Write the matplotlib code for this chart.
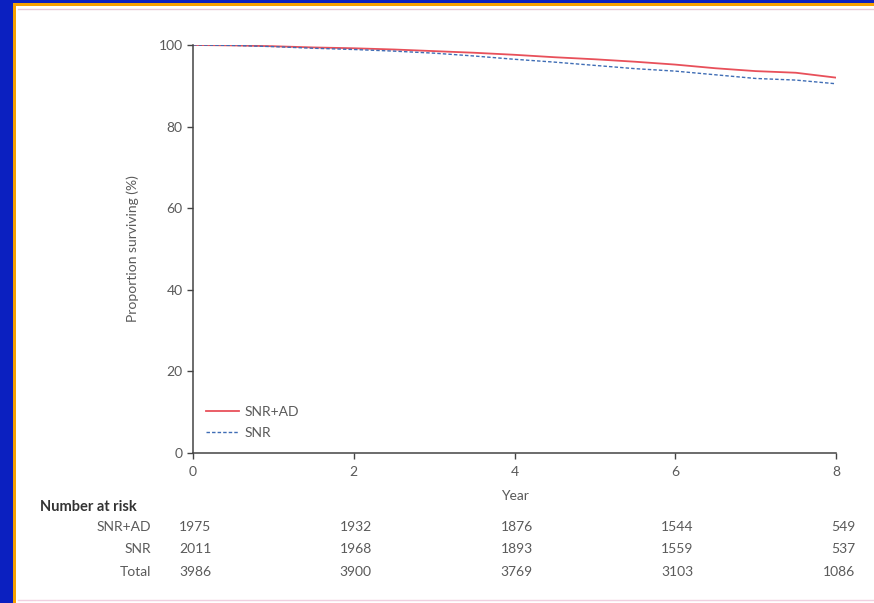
import matplotlib
matplotlib.use("Agg")
import matplotlib.pyplot as plt
from matplotlib.patches import Rectangle
from matplotlib.lines import Line2D

# ---- data ----
years = [0, 0.5, 1, 1.5, 2, 2.5, 3, 3.5, 4, 4.5, 5, 5.5, 6, 6.5, 7, 7.5, 8]
snr_ad = [100, 99.9, 99.7, 99.4, 99.2, 98.9, 98.5, 98.1, 97.6, 97.0, 96.5, 95.9, 95.2, 94.3, 93.6, 93.2, 92.0]
snr = [100, 99.9, 99.6, 99.2, 98.9, 98.5, 98.0, 97.3, 96.5, 95.8, 95.0, 94.2, 93.6, 92.7, 91.8, 91.4, 90.5]
series_names = ["SNR+AD", "SNR"]
x_ticks = [0, 2, 4, 6, 8]
y_ticks = [0, 20, 40, 60, 80, 100]
risk_rows = ["SNR+AD", "SNR", "Total"]
risk_snr_ad = [1975, 1932, 1876, 1544, 549]
risk_snr = [2011, 1968, 1893, 1559, 537]
risk_total = [3986, 3900, 3769, 3103, 1086]

FONT = "Lato"
TXT = "#5a5a5a"
W, H = 874, 603

fig = plt.figure(figsize=(8.74, 6.03), dpi=100)
fig.patch.set_facecolor("#0b20c0")

# background panel
fig.patches.append(Rectangle((13 / W, 0), 1, 1 - 3 / H, transform=fig.transFigure,
                             facecolor="#f5a000", edgecolor="none", zorder=-3))
fig.patches.append(Rectangle((16 / W, 0), 1, 1 - 6 / H, transform=fig.transFigure,
                             facecolor="white", edgecolor="none", zorder=-2))
fig.lines.append(Line2D([18 / W, 1], [1 - 9 / H, 1 - 9 / H], transform=fig.transFigure,
                        color="#e6c8d6", lw=1, zorder=-1))
fig.lines.append(Line2D([18 / W, 1], [3 / H, 3 / H], transform=fig.transFigure,
                        color="#f0d0e0", lw=1, zorder=-1))

ax = fig.add_axes([193 / W, 1 - 453 / H, (836 - 193) / W, (453 - 45) / H])
ax.set_facecolor("none")

ax.plot(years, snr_ad, color="#e8505a", lw=1.3, label=series_names[0])
ax.plot(years, snr, color="#3f6db5", lw=1.0,
        linestyle=(0, (2.5, 1.5)), label=series_names[1])

ax.set_xlim(0, 8)
ax.set_ylim(0, 100)
ax.set_xticks(x_ticks)
ax.set_yticks(y_ticks)
for s in ["top", "right"]:
    ax.spines[s].set_visible(False)
for s in ["left", "bottom"]:
    ax.spines[s].set_color("#444444")
    ax.spines[s].set_linewidth(1.1)
ax.tick_params(colors="#444444", labelcolor=TXT, length=4, width=1, labelsize=10)
ax.tick_params(axis="x", pad=5)
for lab in ax.get_xticklabels() + ax.get_yticklabels():
    lab.set_fontfamily(FONT)

ax.set_xlabel("Year", fontsize=10, color=TXT, fontfamily=FONT, labelpad=9)
ax.set_ylabel("Proportion surviving (%)", fontsize=10, color=TXT, fontfamily=FONT, labelpad=14)

leg = ax.legend(loc="lower left", bbox_to_anchor=(0.0, 0.003), frameon=False,
                prop={"family": FONT, "size": 10}, handlelength=2.4, labelspacing=0.7,
                handletextpad=0.4)
for t in leg.get_texts():
    t.set_color(TXT)

# number at risk table
fig.text(40 / W, 1 - 507 / H, "Number at risk", fontsize=10.5, fontweight="bold",
         color="#333333", fontfamily=FONT, va="center", ha="left")
row_y = [527, 549, 572]
for name, vals, yy in zip(risk_rows, [risk_snr_ad, risk_snr, risk_total], row_y):
    yf = 1 - yy / H
    fig.text(151 / W, yf, name, fontsize=10, color=TXT, fontfamily=FONT, ha="right", va="center")
    for xv, v in zip(x_ticks, vals):
        xd = ax.transData.transform((xv, 0))[0]
        xf = fig.transFigure.inverted().transform((xd, 0))[0]
        ha = "right" if xv == 8 else "center"
        xoff = 19 / W if xv == 8 else 2 / W
        fig.text(xf + xoff, yf, str(v), fontsize=10, color=TXT, fontfamily=FONT,
                 ha=ha, va="center")

fig.savefig("out.png", dpi=100, facecolor=fig.get_facecolor())
